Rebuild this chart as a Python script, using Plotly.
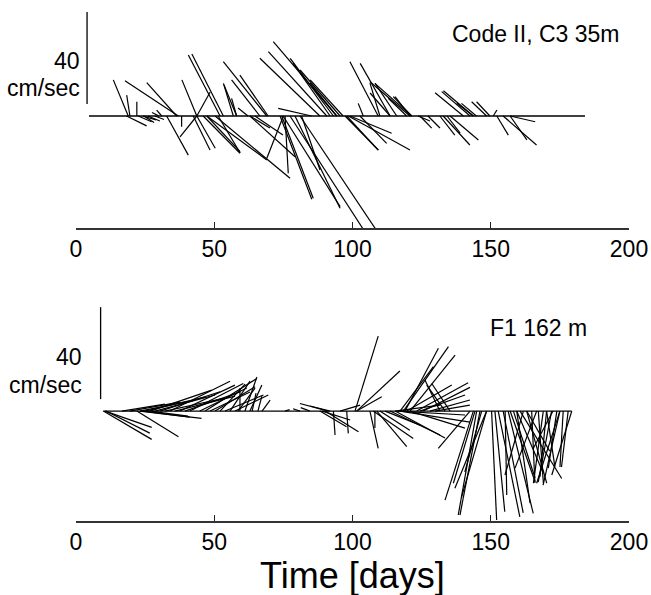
import plotly.graph_objects as go

# ---------------- data (time in days, u/v current components in cm/s) ----------------
top_t = [18.9, 19.5, 22.0, 37.0, 36.4, 43.7, 31.0, 53.3, 52.1, 43.7, 56.9, 58.1, 69.0, 69.5, 66.5,
         58.1, 94.3, 90.7, 88.2, 93.1, 91.9, 85.2, 94.3, 109.3, 113.6, 103.9, 120.8, 121.4, 119.6,
         121.4, 113.6, 140.1, 142.5, 143.7, 148.5, 149.7, 150.9, 62.2, 95.5, 96.6, 109.9, 116.0,
         120.8, 143.7, 144.8,
         18.3, 22.5, 24.2, 26.0, 32.8, 38.2, 42.4, 43.7, 43.7, 47.3, 46.0, 47.3, 50.3, 62.9, 75.0,
         75.6, 73.8, 79.2, 77.4, 81.0, 74.4, 74.9, 81.6, 97.3, 98.5, 97.9, 99.1, 102.7, 124.4,
         127.3, 131.6, 132.8, 135.3, 134.2, 152.2, 154.5, 157.0, 157.0, 123.7, 51.4, 62.9, 64.7,
         28.5, 30.0, 24.5]
top_u = [-6.5, -1.4, 0.0, -23.2, -13.0, -6.5, -2.2, -13.7, -13.8, 5.8, -4.3, -2.2, -18.9, -12.3, -12.3,
         -5.5, -27.6, -25.4, -26.1, -18.8, -16.1, -14.5, -11.6, -12.3, -13.0, -2.2, -17.4, -16.0, -8.0,
         -8.0, -8.7, -12.3, -12.3, -7.2, -6.5, -5.8, 1.6, -4.3, -17.4, -14.3, -4.3, -9.4,
         -6.5, -13.0, -6.5,
         8.7, 5.8, 5.7, 5.2, 9.4, 0.0, 7.3, 8.0, -7.3, 14.5, 16.0, 26.1, 32.6, 19.6, -7.2,
         1.4, 13.8, 19.6, 37.7, 39.0, 13.7, 24.8, 8.0, 14.5, 26.8, 13.7, 18.1, 11.6, 5.1,
         5.2, 6.5, 11.6, 12.3, 5.7, 5.0, 14.5, 10.9, 7.3, 5.2, 9.6, 8.7, 12.2,
         4.0, -3.0, 4.5]
top_v = [15.7, 9.1, 6.2, 15.3, 14.5, 15.7, 2.6, 27.0, 26.5, 10.4, 14.2, 7.7, 23.6, 17.8, 15.7,
         13.5, 32.3, 28.0, 25.1, 25.1, 23.0, 3.3, 14.3, 23.6, 22.9, 5.5, 14.9, 14.2, 7.7,
         8.4, 10.0, 10.1, 10.6, 5.5, 6.2, 6.2, 2.6, 3.5, 20.0, 15.7, 14.3, 14.2,
         8.4, 11.0, 5.5,
         -4.3, -2.5, -1.7, -2.2, -17.0, -4.7, -14.8, -14.0, -9.1, -15.5, -16.2, -19.1, -27.1, -17.7, -18.4,
         -24.9, -36.2, -40.1, -58.3, -58.3, -35.8, -39.4, -23.5, -14.8, -14.8, -14.8, -7.5, -11.9, -5.3,
         -5.2, -8.3, -12.6, -10.4, -7.4, -8.3, -12.6, -2.5, -10.4, -2.2, -16.1, -5.2, -8.3,
         -1.5, 1.5, -2.8]

bot_t = [9.9, 10.5, 10.8, 22.0, 23.1, 24.2, 26.8, 26.8, 30.4, 34.0, 37.6, 41.2, 46.7, 50.3, 53.9,
         57.5, 67.3, 28.6, 32.2, 35.8, 39.4, 44.8, 48.5, 52.1, 55.7, 58.6, 61.1, 62.9, 59.3, 63.7,
         65.8, 16.6, 19.5, 23.1, 25.0, 91.2, 91.9, 88.2, 90.1, 93.1, 97.9, 89.0, 100.9, 101.5, 101.5,
         95.5, 106.3, 107.5, 108.8, 108.1, 109.9, 111.8, 117.2, 118.4, 119.0, 120.8, 119.6, 123.2, 125.6,
         124.4, 133.5, 135.3, 131.6, 115.4, 116.5, 117.2, 120.8, 113.6, 115.4, 142.5, 128.0, 129.8,
         143.7, 144.9, 146.1, 144.3, 146.7, 148.5, 150.3, 151.5, 152.7, 154.5, 155.2, 156.3, 158.2,
         159.4, 160.6, 161.8, 163.0, 164.8, 166.6, 167.2, 169.0, 170.2, 172.0, 173.9, 175.0, 176.2,
         178.0, 179.3, 175.0, 148.5, 157.0, 159.4, 170.2, 163.0, 172.5, 75.6, 81.0, 84.6]
bot_u = [21.0, 20.3, 19.1, 18.1, 26.8, 20.4, 16.5, 26.8, 26.1, 26.1, 23.9, 23.2, 22.5, 17.4, 16.7,
         14.5, 3.5, 26.1, 26.1, 26.1, 23.9, 20.4, 17.4, 10.9, 8.7, 7.4, 5.2, 5.2, 0.0, 1.7,
         1.7, 18.7, 21.7, 23.9, 26.1, -12.3, -8.7, 11.6, 14.5, 0.7, 0.7, 12.2, 10.1, 18.8, 10.9,
         8.7, 3.6, 17.4, 13.0, 0.0, 13.0, 15.2, 14.5, 19.6, 14.5, 19.6, 19.6, 22.4, 20.3,
         19.6, -8.0, -8.0, -6.5, 19.6, 29.1, 30.4, 23.9, 21.7, 21.7, -13.8, 17.4, 15.2,
         -12.3, -8.0, -8.7, -9.4, -7.3, -10.9, 2.2, 4.3, 9.4, 8.7, 0.7, 10.9, 9.4,
         5.8, 18.1, -8.0, 8.7, 1.4, -9.4, 2.2, -4.3, 3.6, -5.8, -3.7, -7.3, -1.4,
         -2.9, -8.7, -10.1, -13.8, 10.9, 11.6, -2.9, 10.0, -8.7, 2.0, -3.0, -4.0]
bot_v = [-12.3, -7.1, -9.6, -11.2, -3.2, -2.6, -2.2, 9.1, 8.4, 13.0, 11.3, 12.0, 14.2, 10.6, 7.0,
         7.0, 4.8, 7.0, 5.7, 6.5, 8.3, 10.0, 8.3, 11.7, 13.0, 10.0, 14.8, 11.3, 10.0, 7.8,
         6.5, 3.0, 3.9, 4.8, 6.1, 3.3, 2.2, -6.8, -9.0, -10.4, -9.7, -3.9, 32.6, 17.4, 6.2,
         2.6, -16.2, -11.9, -15.5, -7.4, -8.3, -6.1, 19.3, 28.0, 27.3, 24.3, 11.3, 12.3, 10.3,
         7.0, 11.3, 12.0, 13.5, 2.6, -1.7, -4.8, -7.4, -10.4, -11.7, -16.2, 4.8, 2.6,
         -38.7, -45.2, -45.2, -31.4, -26.5, -37.4, -47.4, -43.8, -46.0, -44.3, -36.5, -44.5, -29.1,
         -40.0, -29.3, -27.8, -31.3, -31.3, -24.8, -31.3, -31.3, -24.3, -30.9, -24.8, -32.2, -24.3,
         -24.3, -27.8, -31.4, -33.6, -30.7, -27.1, -28.6, -17.4, -16.5, 0.6, 1.0, 1.5]

top_record = [4.7, 184.1]     # time span of the record (days)
bot_record = [9.9, 179.3]
scale_speed = 40              # cm/s scale bar
x_ticks = [0, 50, 100, 150, 200]
top_label = "Code II, C3 35m"
bot_label = "F1 162 m"

# ---------------- layout geometry ----------------
W, H = 651, 595
ML, MR = 76, 22
plot_w = W - ML - MR
top_rng = [-48.7, 48.7]
bot_rng = [-47.8, 48.3]
top_px = (4, 228)      # top / bottom pixel of the panel
bot_px = (300, 521)
px_per_day = plot_w / 200.0
px_per_unit = (top_px[1] - top_px[0]) / (top_rng[1] - top_rng[0])
K = px_per_unit / px_per_day   # days per cm/s so that sticks keep true direction


def sticks(t, u, v):
    xs, ys = [], []
    for ti, ui, vi in zip(t, u, v):
        xs += [ti, ti + ui * K, None]
        ys += [0, vi, None]
    return xs, ys


fig = go.Figure()
for (t, u, v, rec, xa, ya, barx) in [
        (top_t, top_u, top_v, top_record, "x", "y", 4.0),
        (bot_t, bot_u, bot_v, bot_record, "x2", "y2", 8.9)]:
    xs, ys = sticks(t, u, v)
    fig.add_trace(go.Scatter(x=xs, y=ys, mode="lines", xaxis=xa, yaxis=ya,
                             line=dict(color="black", width=1.2), hoverinfo="skip",
                             showlegend=False))
    fig.add_trace(go.Scatter(x=rec, y=[0, 0], mode="lines", xaxis=xa, yaxis=ya,
                             line=dict(color="black", width=1.3), showlegend=False))
    fig.add_trace(go.Scatter(x=[barx, barx], y=[5.2, 5.2 + scale_speed], mode="lines",
                             xaxis=xa, yaxis=ya, line=dict(color="black", width=1.3),
                             showlegend=False))


def dom(px):
    return [(H - px[1]) / H, (H - px[0]) / H]


FONT = "Liberation Sans, Arial, sans-serif"
xax = dict(range=[0, 200], tickvals=x_ticks, ticks="inside", ticklen=6, tickwidth=1.2,
           tickcolor="#222", showline=True, linecolor="#333", linewidth=1.6,
           showgrid=False, zeroline=False, tickfont=dict(family=FONT, size=23, color="black"),
           ticklabelstandoff=0)
yax = dict(visible=False, showgrid=False, zeroline=False)

fig.update_layout(
    width=W, height=H, margin=dict(l=ML, r=MR, t=0, b=0, autoexpand=False),
    paper_bgcolor="white", plot_bgcolor="white",
    xaxis=dict(xax, domain=[0, 1], anchor="y"),
    xaxis2=dict(xax, domain=[0, 1], anchor="y2"),
    yaxis=dict(yax, range=top_rng, domain=dom(top_px), anchor="x"),
    yaxis2=dict(yax, range=bot_rng, domain=dom(bot_px), anchor="x2"),
)

ann_font = dict(family=FONT, size=23, color="black")
anns = [
    dict(x=197.1, y=35.7, xref="x", yref="y", text=top_label, xanchor="right"),
    dict(x=185.5, y=36.1, xref="x2", yref="y2", text=bot_label, xanchor="right"),
    dict(x=2.3, y=23.9, xref="x", yref="y", text=str(scale_speed), xanchor="right"),
    dict(x=2.3, y=12.2, xref="x", yref="y", text="cm/sec", xanchor="right"),
    dict(x=3.0, y=23.5, xref="x2", yref="y2", text=str(scale_speed), xanchor="right"),
    dict(x=3.0, y=11.3, xref="x2", yref="y2", text="cm/sec", xanchor="right"),
]
for a in anns:
    fig.add_annotation(**a, yanchor="middle", showarrow=False, font=ann_font)
fig.add_annotation(x=0.5, y=(H - 575) / H, xref="paper", yref="paper", text="Time [days]",
                   showarrow=False, xanchor="center", yanchor="middle",
                   font=dict(family=FONT, size=36, color="black"))

fig.write_html("out.html", config={"displayModeBar": False},
               post_script="document.body.style.margin='0px';")
